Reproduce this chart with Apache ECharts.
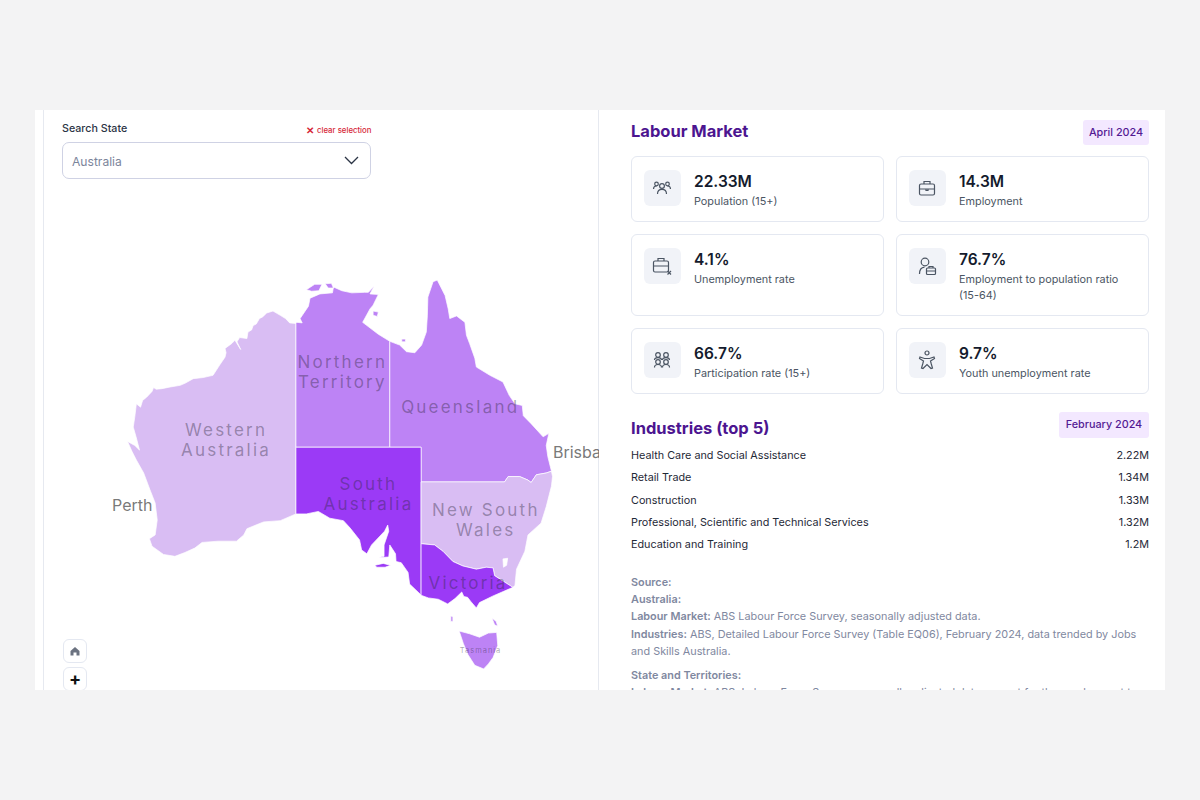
<!DOCTYPE html>
<html>
<head>
    <meta charset="utf-8">
    <title>Labour Market - Australia</title>
    <script src="https://cdn.jsdelivr.net/npm/echarts@6/dist/echarts.min.js"></script>
    <style>
        html, body { margin: 0; height: 100%; background: #f3f3f4; font-family: Inter, sans-serif; overflow: hidden; }
        #panel { position: absolute; left: 35px; top: 110px; width: 1130px; height: 580px; background: #fff; overflow: hidden; }
        #panel > * { position: absolute; }
        .rule { top: 0; width: 1px; height: 580px; background: #e6e9f0; }
        #map { left: 9px; top: 0; width: 555px; height: 580px; }
        #searchLabel { left: 27px; top: 12px; font-size: 10.7px; line-height: 14px; font-weight: 500; color: #2b3445; }
        #clear { left: 271px; top: 14px; font-size: 7.8px; line-height: 12px; font-weight: 500; color: #d62839; white-space: nowrap; }
        #clear b { font-size: 10px; vertical-align: -1px; margin-right: 3px; }
        #select { left: 27px; top: 32px; width: 307px; height: 35px; border: 1px solid #cfd2e4; border-radius: 7px; background: #fff;
                  font-size: 12.1px; line-height: 37px; color: #7c859b; text-indent: 9px; }
        #select svg { position: absolute; right: 11px; top: 13px; }
        .mapBtn { left: 28px; width: 22px; height: 22px; border: 1px solid #e4e8f1; border-radius: 6px; background: #fff; text-align: center; }
        h2 { margin: 0; left: 596px; font-size: 16.5px; line-height: 22px; font-weight: 700; color: #4c1590; white-space: nowrap; }
        .badge { height: 25px; border-radius: 3px; background: #f3e8ff; color: #541a94; font-size: 10.8px; font-weight: 500; line-height: 25px; text-align: center; white-space: nowrap; }
        #cards { left: 596px; top: 46px; display: grid; grid-template-columns: 253px 253px; grid-template-rows: 66px 82px 66px; gap: 12px; }
        .card { position: relative; box-sizing: border-box; border: 1px solid #e4e8f1; border-radius: 6px; }
        .icon { position: absolute; left: 12px; top: 13px; width: 37px; height: 36px; border-radius: 6px; background: #f1f3f8; }
        .icon svg { position: absolute; left: 8px; top: 8px; width: 20px; height: 20px; fill: none; stroke: #4b5563; stroke-width: 1.2; }
        .txt { position: absolute; left: 62px; top: 14px; right: 20px; }
        .val { font-size: 15.5px; line-height: 22px; font-weight: 600; color: #141b2d; }
        .lab { font-size: 10.85px; line-height: 16px; color: #4b5563; }
        #rows { left: 596px; top: 335px; width: 518px; font-size: 10.8px; color: #1f2937; }
        .row { display: flex; justify-content: space-between; height: 22.3px; line-height: 22.3px; }
        #source { left: 596px; top: 463.5px; width: 518px; font-size: 10.85px; line-height: 17.4px; color: #7f88a0; }
        #source p { margin: 0 0 6.5px; }
        #source b { font-weight: 600; }
    </style>
</head>
<body>
    <div id="panel">
        <div class="rule" style="left:8px"></div>
        <div class="rule" style="left:563px"></div>
        <div id="map"></div>
        <div id="searchLabel">Search State</div>
        <div id="clear"><b>&#10005;</b>clear selection</div>
        <div id="select">Australia
            <svg width="15" height="9" viewBox="0 0 15 9" fill="none" stroke="#2b3445" stroke-width="1.3"><path d="M1 1l6.5 6.5L14 1"/></svg>
        </div>
        <div class="mapBtn" style="top:529px">
            <svg width="10" height="22" viewBox="0 0 10 22" fill="#6b7280"><path d="M5 7l4.5 4v4.5H6.5v-3h-3v3H.5V11z"/></svg>
        </div>
        <div class="mapBtn" style="top:557px;font-size:18px;line-height:22px;font-weight:700;color:#111">+</div>
        <h2 style="top:10px">Labour Market</h2>
        <div class="badge" style="left:1048px;top:10px;width:66px">April 2024</div>
        <div id="cards"></div>
        <h2 style="top:307px">Industries (top 5)</h2>
        <div class="badge" style="left:1024px;top:302px;width:90px;height:26px;line-height:25px">February 2024</div>
        <div id="rows"></div>
        <div id="source"></div>
    </div>
    <script type="text/javascript">
        // KPI cards
        var kpiValues = ['22.33M', '14.3M', '4.1%', '76.7%', '66.7%', '9.7%'];
        var kpiLabels = ['Population (15+)', 'Employment', 'Unemployment rate',
            'Employment to population ratio (15-64)', 'Participation rate (15+)', 'Youth unemployment rate'];
        var kpiIcons = [
            '<circle cx="10" cy="8" r="2.4"/><path d="M5.5 16c0-3 2-4.6 4.5-4.6s4.5 1.6 4.5 4.6"/><circle cx="4.5" cy="6" r="1.8"/><circle cx="15.5" cy="6" r="1.8"/><path d="M1.5 11c0-2 1.2-3 3-3M18.5 11c0-2-1.2-3-3-3"/>',
            '<rect x="2.5" y="6" width="15" height="11" rx="1.5"/><path d="M7 6V3.5h6V6M2.5 11h15M9 11v1.500h2V11"/>',
            '<rect x="1.5" y="5" width="15" height="11" rx="1.5"/><path d="M6 5V2.500h6V5M1.5 10h15M15.500 15l3.500 3.500M19 15l-3.500 3.500"/>',
            '<circle cx="8" cy="6" r="3.800"/><path d="M2.500 18c0-4 1.500-6.500 5-6.800"/><rect x="9.500" y="12" width="9" height="6.500" rx="1"/><path d="M12 12v-1.500h4V12M9.500 15h9"/>',
            '<circle cx="6" cy="5" r="2.300"/><circle cx="14" cy="5" r="2.300"/><circle cx="6" cy="12" r="2.300"/><circle cx="14" cy="12" r="2.300"/><path d="M2.500 10c0-1.500 1-2.300 3.500-2.300s3.500.8 3.500 2.300M10.500 10c0-1.500 1-2.300 3.500-2.300s3.500.8 3.500 2.300M2.500 17.500c0-2 1-3 3.500-3s3.500 1 3.500 3M10.500 17.500c0-2 1-3 3.500-3s3.500 1 3.500 3"/>',
            '<circle cx="10" cy="3" r="2"/><path d="M3 7l4.500 1.500h5L17 7l.5 1.500-4 2.500.8 3 1.200 4-1.500.5L10 14.500 6 18.500 4.500 18l1.200-4 .8-3-4-2.500z"/>'
        ];

        // Industries (top 5), February 2024
        var industryNames = ['Health Care and Social Assistance', 'Retail Trade', 'Construction',
            'Professional, Scientific and Technical Services', 'Education and Training'];
        var industryValues = ['2.22M', '1.34M', '1.33M', '1.32M', '1.2M'];

        // Source note
        var sourceParagraphs = [
            '<b>Source:</b><br><b>Australia:</b><br><b>Labour Market:</b> ABS Labour Force Survey, seasonally adjusted data.<br><b>Industries:</b> ABS, Detailed Labour Force Survey (Table EQ06), February 2024, data trended by Jobs and Skills Australia.',
            '<b>State and Territories:</b><br><b>Labour Market:</b> ABS, Labour Force Survey, seasonally adjusted data, except for the employment to'
        ];

        // Map: state names, shade level, label text and label position (lon, lat)
        var stateNames = ['Western Australia', 'Northern Territory', 'Queensland', 'South Australia', 'New South Wales', 'Victoria', 'Tasmania'];
        var stateLevels = [0, 1, 1, 2, 0, 2, 1];
        var stateLabels = ['Western\nAustralia', 'Northern\nTerritory', 'Queensland', 'South\nAustralia', 'New South\nWales', 'Victoria', 'Tasmania'];
        var stateLabelCoords = [[122.3, -25.38], [133.45, -19.38], [144.75, -22.48], [135.95, -29.98], [147.2, -32.08], [145.5, -37.05], [146.7, -42.05]];
        var levelColors = ['#d9bdf3', '#bd83f5', '#9b3af6'];

        var cityNames = ['Perth', 'Brisbane'];
        var cityCoords = [[115.3, -30.85], [153.6, -26.45]];
        var cityPositions = ['left', 'right'];

        // State outlines, lon/lat
        var waOutline = [[129,-14.9],[128.4,-14.85],[128.15,-14.6],[128,-14.45],[127.5,-14.15],[126.8,-13.75],[126.2,-13.93],[125.8,-14.3],[125.5,-14.45],[125.2,-14.95],[124.9,-15.1],[124.75,-15.5],[124.4,-15.7],[124.3,-16.3],[123.6,-16.2],[123.35,-16.6],[123.7,-17.3],[123.15,-16.45],[122.85,-16.75],[122.2,-17.2],[122.3,-17.6],[122.2,-18],[121.7,-18.7],[121.05,-19.65],[120.1,-19.85],[119.15,-19.95],[118.4,-20.35],[117.9,-20.55],[116.95,-20.7],[116.15,-20.85],[115.6,-20.9],[115.35,-20.75],[115.2,-21.1],[114.7,-21.6],[114.3,-21.9],[114.1,-22.5],[113.7,-22.2],[113.55,-23.35],[113.4,-24.25],[113.7,-25.2],[114,-26.25],[113.55,-25.85],[112.85,-25.5],[113.3,-26.4],[113.7,-27.1],[114.4,-28.2],[115,-29.6],[115.5,-30.7],[115.7,-32.1],[115.5,-33.3],[114.95,-33.6],[115.2,-34.2],[116.3,-34.85],[117.4,-35],[118.35,-34.7],[119.3,-34.35],[120,-33.9],[121.55,-33.8],[123.3,-33.8],[124,-33.3],[124.3,-32.8],[125.9,-32.25],[127.5,-32.15],[129,-31.6]];
        var ntOutline = [[138,-16.55],[136.9,-15.9],[135.4,-14.8],[136.1,-13.55],[136.4,-13.2],[136.9,-12.2],[136.1,-12.15],[136.5,-11.4],[135.95,-12],[135.6,-12],[134.35,-12.05],[133.4,-11.85],[132.6,-11.5],[132.5,-12.05],[131.3,-12.15],[130.35,-12.55],[130.2,-13.3],[129.4,-14.45],[129.6,-14.85],[129.1,-14.8],[129,-14.9],[129,-26],[138,-26]];
        var tiwiIsland = [[130,-11.75],[130.8,-11.25],[131.5,-11.25],[131.2,-11.85],[130.5,-11.9]];
        var cobourgIsland = [[131.8,-11.2],[132.4,-11.15],[132.6,-11.6],[132.1,-11.6]];
        var grooteIsland = [[136.4,-13.75],[136.9,-13.85],[136.8,-14.25],[136.4,-14.15]];
        var qldOutline = [[138,-16.55],[138.95,-16.9],[139.6,-17.5],[140.4,-17.6],[141.05,-16.9],[141.5,-15.7],[141.6,-14.2],[141.65,-12.45],[142.15,-11],[142.55,-10.85],[143.3,-12.3],[143.6,-13.55],[143.75,-14.45],[144.4,-14.2],[145.2,-14.8],[145.35,-16],[145.65,-16.75],[146.15,-18.1],[146.3,-18.9],[147.6,-19.65],[148.85,-20.25],[149.45,-21.45],[150,-22.2],[150.7,-22.35],[150.8,-23.25],[151.55,-23.95],[152.7,-25.1],[153.25,-24.8],[153,-25.85],[153.15,-26.8],[153.5,-28.05],[153,-28.2],[152.05,-28.35],[151.55,-29],[151.25,-28.8],[150.45,-28.5],[149.35,-28.5],[149,-28.95],[141,-28.95],[141,-26],[138,-26]];
        var morningtonIsland = [[139.15,-16.35],[139.5,-16.35],[139.5,-16.6],[139.15,-16.6]];
        var saOutline = [[129,-26],[141,-26],[141,-38],[140.9,-37.9],[139.9,-37.15],[139.75,-36.25],[139.1,-35.5],[138.6,-35.4],[138.55,-34.8],[138,-34.1],[137.9,-35.05],[136.9,-35.1],[137.45,-35],[137.45,-34.1],[137.9,-33],[137.8,-32.5],[137.5,-33],[136.25,-34.1],[135.8,-34.8],[135.3,-34.5],[135.1,-33.7],[134.2,-32.75],[133.55,-32.15],[132.25,-31.95],[131.15,-31.4],[130,-31.6],[129,-31.6]];
        var kangarooIsland = [[136.57,-35.7],[137.37,-35.55],[138.07,-35.7],[137.55,-35.85],[136.75,-35.85]];
        var nswOutline = [[141,-28.95],[149,-28.95],[149.35,-28.5],[150.45,-28.5],[151.25,-28.8],[151.55,-29],[152.05,-28.35],[153,-28.2],[153.5,-28.05],[153.6,-28.5],[153.5,-29.3],[153,-31],[152.5,-32.35],[151.25,-33.3],[150.95,-34.6],[150.15,-36],[150,-37.25],[149.8,-37.4],[148.05,-36.5],[147.9,-35.9],[147.25,-35.85],[146.3,-36],[145,-35.75],[144.05,-35.4],[143.1,-34.6],[142.3,-34.1],[141,-34]];
        var actHole = [[148.85,-35.2],[148.9,-35.85],[149.2,-35.7],[149.3,-35.15]];
        var vicOutline = [[141,-34],[142.3,-34.1],[143.1,-34.6],[144.05,-35.4],[145,-35.75],[146.3,-36],[147.25,-35.85],[147.9,-35.9],[148.05,-36.5],[149.8,-37.4],[147.9,-38.05],[146.6,-38.55],[146.3,-38.95],[145.8,-38.5],[145.45,-38.15],[145.1,-38.1],[144.9,-37.75],[144.25,-38.25],[143.55,-38.65],[142.65,-38.3],[141.7,-38.2],[141,-38]];
        var tasOutline = [[144.65,-40.65],[145.65,-40.85],[146.6,-41.1],[147.45,-40.8],[148.25,-40.75],[148.35,-41.7],[147.9,-42.55],[147.45,-43],[147,-43.35],[146.15,-43.1],[145.5,-42.35],[145.05,-41.55]];
        var kingIsland = [[143.85,-39.55],[144.05,-39.6],[144.05,-39.95],[143.85,-39.95]];
        var flindersIsland = [[147.8,-39.7],[148.2,-39.95],[148.35,-40.3],[148.05,-40.2]];

        var statePolygons = [
            [[waOutline]],
            [[ntOutline], [tiwiIsland], [cobourgIsland], [grooteIsland]],
            [[qldOutline], [morningtonIsland]],
            [[saOutline], [kangarooIsland]],
            [[nswOutline, actHole]],
            [[vicOutline]],
            [[tasOutline], [kingIsland], [flindersIsland]]
        ];

        // Page text around the map
        document.getElementById('cards').innerHTML = kpiValues.map(function (v, i) {
            return '<div class="card"><div class="icon"><svg viewBox="0 0 20 20">' + kpiIcons[i] + '</svg></div>' +
                '<div class="txt"><div class="val">' + v + '</div><div class="lab">' + kpiLabels[i] + '</div></div></div>';
        }).join('');
        document.getElementById('rows').innerHTML = industryNames.map(function (n, i) {
            return '<div class="row"><span>' + n + '</span><span>' + industryValues[i] + '</span></div>';
        }).join('');
        document.getElementById('source').innerHTML = sourceParagraphs.map(function (p) {
            return '<p>' + p + '</p>';
        }).join('');

        // Map
        function closeRing(ring) { return ring.concat([ring[0]]); }
        var geoJson = {
            type: 'FeatureCollection',
            features: stateNames.map(function (name, i) {
                return {
                    type: 'Feature',
                    properties: { name: name, cp: stateLabelCoords[i] },
                    geometry: {
                        type: 'MultiPolygon',
                        coordinates: statePolygons[i].map(function (poly) { return poly.map(closeRing); })
                    }
                };
            })
        };
        echarts.registerMap('australia', geoJson);

        var chart = echarts.init(document.getElementById('map'), null, { renderer: 'svg' });
        chart.setOption({
            animation: false,
            geo: {
                map: 'australia',
                silent: true,
                roam: false,
                layoutCenter: [296, 364.5],
                layoutSize: 425,
                projection: {
                    project: function (c) {
                        return [c[0], -Math.log(Math.tan(Math.PI / 4 + c[1] * Math.PI / 360)) * 180 / Math.PI];
                    },
                    unproject: function (p) {
                        return [p[0], (2 * Math.atan(Math.exp(-p[1] * Math.PI / 180)) - Math.PI / 2) * 180 / Math.PI];
                    }
                },
                itemStyle: { borderColor: 'rgba(255,255,255,0.7)', borderWidth: 1 },
                label: { show: true, color: 'rgba(45,40,60,0.4)', fontFamily: 'Inter', fontSize: 17, lineHeight: 20 },
                regions: stateNames.map(function (name, i) {
                    return {
                        name: name,
                        itemStyle: { areaColor: levelColors[stateLevels[i]] },
                        label: { formatter: stateLabels[i], fontSize: name === 'Tasmania' ? 7.5 : 17 }
                    };
                })
            },
            series: [{
                type: 'scatter',
                coordinateSystem: 'geo',
                silent: true,
                symbolSize: 1,
                itemStyle: { color: 'transparent' },
                label: { show: true, formatter: '{b}', distance: 0, color: '#555', fontFamily: 'Inter', fontSize: 16 },
                data: cityNames.map(function (name, i) {
                    return { name: name, value: cityCoords[i], label: { position: cityPositions[i] } };
                })
            }]
        });

        // state labels are tracked out
        function spaceLabels() {
            document.querySelectorAll('#map text').forEach(function (t) {
                if (cityNames.indexOf(t.textContent) < 0) t.style.letterSpacing = '0.13em';
            });
        }
        chart.on('finished', spaceLabels);
        spaceLabels();
    </script>
</body>
</html>
